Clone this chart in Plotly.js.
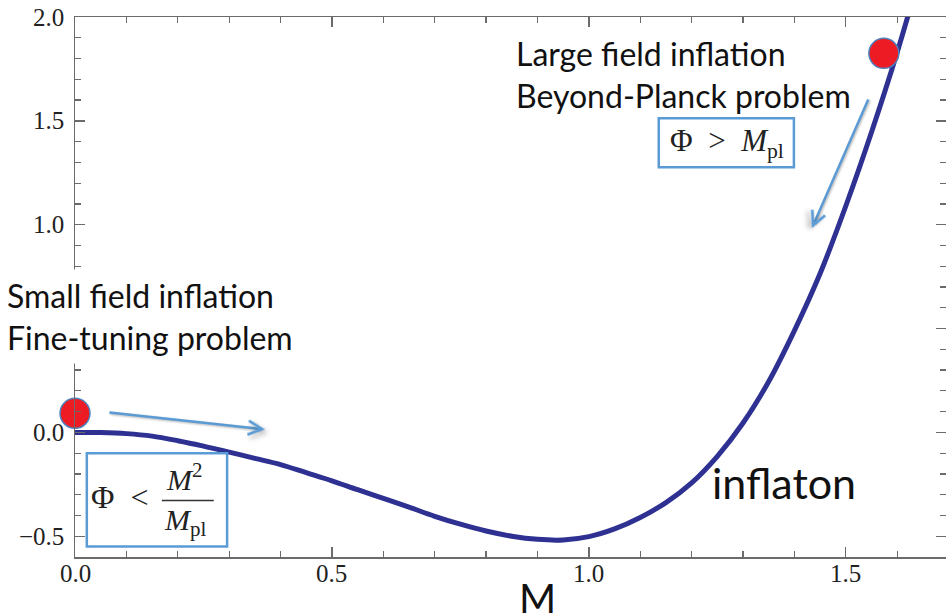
<!DOCTYPE html>
<html>
<head>
<meta charset="utf-8">
<script src="https://cdn.plot.ly/plotly-3.0.1.min.js"></script>
<style>
html,body{margin:0;padding:0;background:#fff;}
#chart{width:946px;height:614px;}
#chart .annotation-arrow-g path{filter:drop-shadow(1.5px 1.5px 1px rgba(0,0,0,0.3));}
</style>
</head>
<body>
<div id="chart"></div>
<script>
// Potential curve (field value M, potential V)
const fieldM = [0, 0.05, 0.1, 0.15, 0.2, 0.25, 0.3, 0.35, 0.4, 0.45, 0.5, 0.55, 0.6, 0.65, 0.7, 0.75, 0.8, 0.85, 0.9, 0.95, 1.0, 1.05, 1.1, 1.15, 1.2, 1.25, 1.3, 1.35, 1.4, 1.45, 1.5, 1.55, 1.6, 1.64];
const potentialV = [0, -0.001, -0.006, -0.018, -0.04, -0.066, -0.095, -0.125, -0.155, -0.194, -0.233, -0.276, -0.318, -0.36, -0.404, -0.442, -0.475, -0.5, -0.515, -0.518, -0.502, -0.465, -0.41, -0.338, -0.243, -0.115, 0.045, 0.245, 0.49, 0.765, 1.09, 1.445, 1.83, 2.17];
// Red ball positions
const ballM = [0, 1.574];
const ballV = [0.092, 1.825];
// Tick labels
const xTickVals = [0, 0.5, 1.0, 1.5];
const xTickText = ['0.0', '0.5', '1.0', '1.5'];
const yTickVals = [-0.5, 0, 0.5, 1.0, 1.5, 2.0];
const yTickText = ['\u22120.5', '0.0', '0.5', '1.0', '1.5', '2.0'];

const axisColor = '#6b6b6b';
const boxBlue = '#5b9bd5';
const arrowBlue = '#5b9bd5';
const sans = 'Lato';
const serif = 'Liberation Serif';
const xRange = [0, 1.695];
const yRange = [-0.6, 2.0];
const tickFont = {family: serif, size: 25, color: '#222'};

const traces = [
  {x: fieldM, y: potentialV, mode: 'lines', type: 'scatter',
   line: {color: '#2e3192', width: 5, shape: 'spline', smoothing: 1.0}, hoverinfo: 'skip'},
  {x: ballM, y: ballV, mode: 'markers', type: 'scatter', cliponaxis: false,
   marker: {size: 30, color: '#ed1c24', line: {color: '#4f81bd', width: 1.5}}, hoverinfo: 'skip'},
  // invisible carrier trace so the minor-tick overlay axes are drawn
  {x: ballM, y: ballV, mode: 'markers', type: 'scatter', xaxis: 'x2', yaxis: 'y2',
   marker: {size: 1, opacity: 0}, hoverinfo: 'skip'}
];

// Tick labels placed at the axis tick values
const xTickLabels = xTickVals.map((v, i) => ({
  xref: 'x', yref: 'paper', x: v, y: -0.031, xanchor: 'center', yanchor: 'middle',
  text: xTickText[i], showarrow: false, font: tickFont}));
const yTickLabels = yTickVals.map((v, i) => ({
  xref: 'paper', yref: 'y', x: -0.0103, y: v, xanchor: 'right', yanchor: 'middle',
  text: yTickText[i], showarrow: false, font: tickFont}));

const layout = {
  width: 946, height: 614,
  margin: {l: 75, r: 0, t: 17, b: 57},
  paper_bgcolor: '#fff', plot_bgcolor: '#fff',
  showlegend: false,
  xaxis: {range: xRange, tickmode: 'array', tickvals: xTickVals, showticklabels: false,
    showline: true, linecolor: axisColor, linewidth: 1.5, mirror: 'ticks',
    ticks: 'inside', ticklen: 10, tickwidth: 1.3, tickcolor: axisColor,
    showgrid: false, zeroline: false, fixedrange: true},
  yaxis: {range: yRange, tickmode: 'array', tickvals: yTickVals, showticklabels: false,
    showline: true, linecolor: axisColor, linewidth: 1.5, mirror: 'ticks',
    ticks: 'inside', ticklen: 10, tickwidth: 1.3, tickcolor: axisColor,
    showgrid: false, zeroline: false, fixedrange: true},
  xaxis2: {range: xRange, overlaying: 'x', side: 'bottom', tickmode: 'linear', tick0: 0, dtick: 0.1,
    ticks: 'inside', ticklen: 6, tickwidth: 1.2, tickcolor: axisColor, mirror: 'ticks',
    showline: false, showticklabels: false, showgrid: false, zeroline: false, fixedrange: true},
  yaxis2: {range: yRange, overlaying: 'y', side: 'left', tickmode: 'linear', tick0: 0, dtick: 0.1,
    ticks: 'inside', ticklen: 6, tickwidth: 1.2, tickcolor: axisColor, mirror: 'ticks',
    showline: false, showticklabels: false, showgrid: false, zeroline: false, fixedrange: true},
  shapes: [
    {type: 'rect', xref: 'x', yref: 'y', x0: 0.023, x1: 0.296, y0: -0.549, y1: -0.101,
     line: {color: boxBlue, width: 2.5}, fillcolor: 'rgba(255,255,255,0)', layer: 'above'},
    {type: 'rect', xref: 'x', yref: 'y', x0: 1.136, x1: 1.399, y0: 1.277, y1: 1.513,
     line: {color: boxBlue, width: 2.5}, fillcolor: '#fff', layer: 'above'},
    {type: 'line', xref: 'x', yref: 'y', x0: 0.169, x1: 0.270, y0: -0.328, y1: -0.328,
     line: {color: '#333', width: 1.3}, layer: 'above'}
  ],
  annotations: xTickLabels.concat(yTickLabels, [
    {xref: 'paper', yref: 'y', x: -0.0861, y: 0.56, xanchor: 'left', yanchor: 'middle', align: 'left',
     text: 'Small field inflation<br>Fine-tuning problem', showarrow: false,
     font: {family: sans, size: 32, color: '#111'}, bgcolor: '#fff', borderpad: 6},
    {xref: 'x', yref: 'y', x: 0.855, y: 1.725, xanchor: 'left', yanchor: 'middle', align: 'left',
     text: 'Large field inflation<br>Beyond-Planck problem', showarrow: false,
     font: {family: sans, size: 32, color: '#111'}},
    {xref: 'x', yref: 'y', x: 1.236, y: -0.24, xanchor: 'left', yanchor: 'middle',
     text: 'inflaton', showarrow: false, font: {family: sans, size: 43, color: '#111'}},
    {xref: 'x', yref: 'paper', x: 0.90, y: -0.076, xanchor: 'center', yanchor: 'middle',
     text: 'M', showarrow: false, font: {family: sans, size: 40, color: '#111'}},
    {xref: 'x', yref: 'y', x: 0.0875, y: -0.313, xanchor: 'center', yanchor: 'middle',
     text: '\u03A6&nbsp;&nbsp;<', showarrow: false, font: {family: serif, size: 32, color: '#222'}},
    {xref: 'x', yref: 'y', x: 0.213, y: -0.215, xanchor: 'center', yanchor: 'middle',
     text: '<i>M</i><sup>2</sup>', showarrow: false, font: {family: serif, size: 30, color: '#222'}},
    {xref: 'x', yref: 'y', x: 0.216, y: -0.43, xanchor: 'center', yanchor: 'middle',
     text: '<i>M</i><sub>pl</sub>', showarrow: false, font: {family: serif, size: 30, color: '#222'}},
    {xref: 'x', yref: 'y', x: 1.268, y: 1.393, xanchor: 'center', yanchor: 'middle',
     text: '\u03A6&nbsp;&nbsp;>&nbsp;&nbsp;<i>M</i><sub>pl</sub>', showarrow: false, font: {family: serif, size: 31, color: '#222'}},
    {xref: 'x', yref: 'y', axref: 'x', ayref: 'y', x: 0.370, y: 0.014, ax: 0.064, ay: 0.096,
     text: '', showarrow: true, arrowhead: 5, arrowsize: 1.1, arrowwidth: 2.5, arrowcolor: arrowBlue},
    {xref: 'x', yref: 'y', axref: 'x', ayref: 'y', x: 1.434, y: 0.983, ax: 1.545, ay: 1.61,
     text: '', showarrow: true, arrowhead: 5, arrowsize: 1.1, arrowwidth: 2.5, arrowcolor: arrowBlue}
  ])
};

Plotly.newPlot('chart', traces, layout, {staticPlot: true, displayModeBar: false});
</script>
</body>
</html>
